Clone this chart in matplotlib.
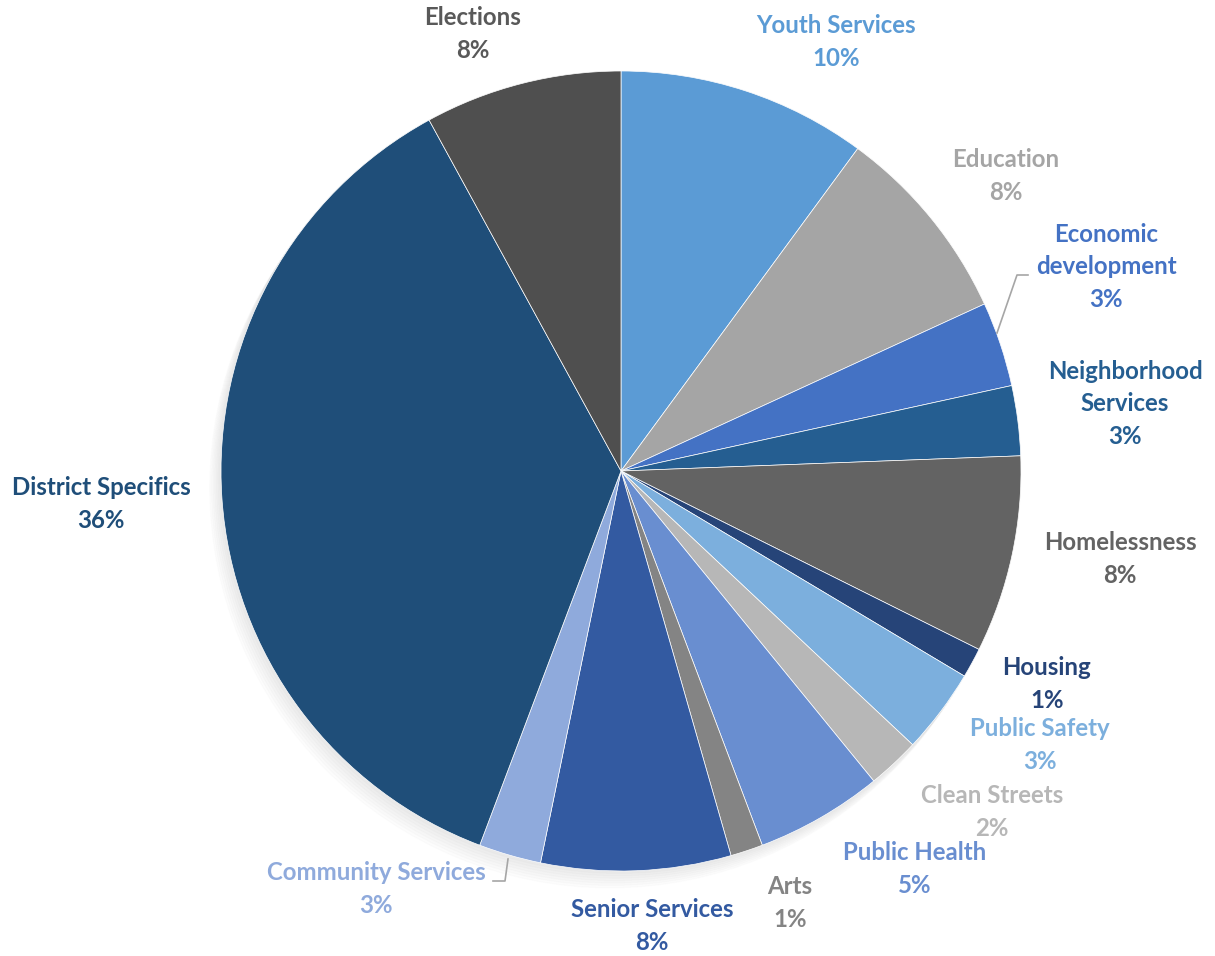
import matplotlib
matplotlib.use("Agg")
import matplotlib.pyplot as plt
from matplotlib.lines import Line2D

categories = ["Youth Services", "Education", "Economic\ndevelopment", "Neighborhood\nServices",
              "Homelessness", "Housing", "Public Safety", "Clean Streets", "Public Health",
              "Arts", "Senior Services", "Community Services", "District Specifics", "Elections"]
values = [10.0, 8.0, 3.4, 2.8, 7.9, 1.2, 3.4, 2.1, 5.1, 1.3, 7.6, 2.5, 36.0, 7.9]
colors = ["#5B9BD5", "#A5A5A5", "#4472C4", "#255E91", "#636363", "#264478", "#7CAFDD",
          "#B7B7B7", "#698ED0", "#848484", "#335AA1", "#8FAADC", "#1F4E79", "#4F4F4F"]
label_colors = ["#5B9BD5", "#A5A5A5", "#4472C4", "#255E91", "#636363", "#264478", "#7CAFDD",
                "#B7B7B7", "#698ED0", "#848484", "#335AA1", "#8FAADC", "#1F4E79", "#595959"]

# label centres in image pixels (x from left, y from top)
label_pos = [(836, 42), (1006, 176), (1106, 267), (1125, 404), (1120, 559), (1047, 684),
             (1040, 745), (992, 812), (915, 869), (790, 903), (652, 926), (376, 889),
             (101, 504), (473, 34)]

W, H = 1215, 956
fig = plt.figure(figsize=(W / 100, H / 100), dpi=100)
ax = fig.add_axes([0, 0, 1, 1])
cx, cy, R = 621, 471, 400

# soft shadow
for i in range(8):
    sh = plt.Circle((-0.004 * i, -0.006 * i), 1.0, color="black", alpha=0.012, zorder=0)
    ax.add_patch(sh)

ax.pie(values, colors=colors, startangle=90, counterclock=False, radius=1.0,
       center=(0, 0), wedgeprops=dict(edgecolor="white", linewidth=0.5))
ax.set_xlim(-cx / R, (W - cx) / R)
ax.set_ylim((cy - H) / R, cy / R)
ax.set_aspect("equal")
ax.axis("off")

total = sum(values)
for cat, v, col, (px, py) in zip(categories, values, label_colors, label_pos):
    txt = f"{cat}\n{v / total * 100:.0f}%"
    fig.text(px / W, 1 - py / H, txt, ha="center", va="center", color=col,
             fontsize=17.3, fontweight="bold", family="Lato", linespacing=1.5)

# leader lines (pixel coords)
def leader(pts):
    xs = [p[0] / W for p in pts]
    ys = [1 - p[1] / H for p in pts]
    fig.add_artist(Line2D(xs, ys, transform=fig.transFigure, color="#A6A6A6", lw=1.2))

leader([(1028, 275), (1017, 275), (997, 333)])
leader([(493, 881), (505, 881), (508, 859)])

fig.savefig("out.png", dpi=100, facecolor="white")
